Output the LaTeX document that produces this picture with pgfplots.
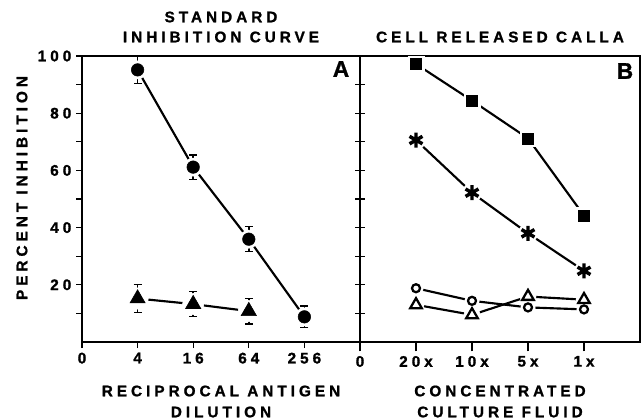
\documentclass[border=0pt]{standalone}
\usepackage{fontspec}
\setmainfont{Liberation Sans}
\newfontfamily\lsf[LetterSpace=26, FakeBold=1.2]{Liberation Sans Bold}
\newfontfamily\lsfb[FakeBold=1.2]{Liberation Sans Bold}
\usepackage{pgfplots}
\pgfplotsset{compat=1.18}
\newcommand{\lab}{\lsf\fontsize{11.5}{13}\selectfont}
\newcommand{\biglab}{\lsfb\fontsize{17}{17}\selectfont}

\begin{document}
\begin{tikzpicture}
\useasboundingbox (-61.5pt,-57.75pt) rectangle (419.25pt,256.5pt);
\pgfplotsset{
 panel/.style={scale only axis, height=214.5pt, ymin=0, ymax=100, xmin=0, xmax=5,
   axis line style={line width=1.2pt}, every tick/.style={black, line width=1pt},
   major tick length=4.5pt, minor tick length=4.5pt, tick align=outside,
   xtick={0,1,2,3,4}, xtick pos=lower,
   ticklabel style={font=\lab}, clip=false},
 ln/.style={black, line width=1.6pt, mark=none},
 halo/.style={only marks, white, mark options={fill=white, draw=white}},
 eb/.style={error bars/.cd, y dir=both, y explicit, error mark=|,
   error bar style={line width=1.1pt, black},
   error mark options={black, mark size=3pt, line width=1.1pt}},
}
\begin{axis}[panel, name=A, at={(0,0)}, anchor=south west, width=208.5pt,
  xticklabels={0,4,16,64,256},
  ytick={20,40,60,80,100}, minor ytick={10,30,50,70,90},
  yticklabels={20,40,60,80,100}, ytick pos=left]
\addplot[ln] coordinates {(1,95.15)(2,61.15)(3,35.95)(4,8.8)};
\addplot[ln] coordinates {(1,15.2)(2,13.25)(3,10.8)};
\addplot[halo, mark=*, mark size=6.8pt] coordinates {(1,95.15)(2,61.15)(3,35.95)(4,8.8)};
\addplot[halo, mark=*, mark size=8pt] coordinates {(1,15.2)(2,13.25)(3,10.8)};
\addplot[only marks, black, mark=*, mark size=4.7pt, eb] coordinates {
 (1,95.15) +- (0,4.75)
 (2,61.15) +- (0,4.25)
 (3,35.95) +- (0,4.35)
 (4,8.8) +- (0,3.8)};
\addplot[only marks, black, mark=triangle*, mark size=6.6pt, eb] coordinates {
 (1,15.2) +- (0,4.9)
 (2,13.25) +- (0,4.35)
 (3,10.8) +- (0,4.5)};
\end{axis}
\begin{axis}[panel, name=B, at={(208.5pt,0)}, anchor=south west, width=210pt,
  xticklabels={0,20x,10x,5x,1x},
  ytick={10,20,30,40,50,60,70,80,90}, yticklabels={}, ytick pos=left, ytick align=center,
  major tick length=7pt]
\addplot[ln] coordinates {(1,97.2)(2,84.4)(3,71.2)(4,44.2)};
\addplot[ln] coordinates {(1,70.6)(2,52.2)(3,38.0)(4,24.9)};
\addplot[ln] coordinates {(1,18.8)(2,14.4)(3,12.1)(4,11.4)};
\addplot[ln] coordinates {(1,13.0)(2,9.5)(3,15.9)(4,14.8)};
\addplot[halo, mark=square*, mark size=6pt] coordinates {(1,97.2)(2,84.4)(3,71.2)(4,44.2)};
\addplot[halo, mark=*, mark size=7.2pt] coordinates {(1,70.6)(2,52.2)(3,38.0)(4,24.9)};
\addplot[halo, mark=*, mark size=5.4pt] coordinates {(1,18.8)(2,14.4)(3,12.1)(4,11.4)};
\addplot[halo, mark=*, mark size=6pt] coordinates {(1,13.0)(2,9.5)(3,15.9)(4,14.8)};
\addplot[only marks, black, mark=square*, mark size=4.2pt] coordinates {(1,97.2)(2,84.4)(3,71.2)(4,44.2)};
\addplot[only marks, black, mark=asterisk, mark size=5.6pt, mark options={line width=2.6pt}] coordinates {(1,70.6)(2,52.2)(3,38.0)(4,24.9)};
\addplot[only marks, black, mark=*, mark size=3pt, mark options={fill=white, draw=black, line width=1.7pt}] coordinates {(1,18.8)(2,14.4)(3,12.1)(4,11.4)};
\addplot[only marks, black, mark=triangle*, mark size=5pt, mark options={fill=white, draw=black, line width=1.7pt}] coordinates {(1,13.0)(2,9.5)(3,15.9)(4,14.8)};
\end{axis}
\node[font=\lab] at (104.25pt,243.75pt) {STANDARD};
\node[font=\lab] at (104.25pt,228.75pt) {INHIBITION CURVE};
\node[font=\lab] at (313.5pt,228.75pt) {CELL RELEASED CALLA};
\node[font=\lab] at (104.25pt,-36.75pt) {RECIPROCAL ANTIGEN};
\node[font=\lab] at (104.25pt,-52.5pt) {DILUTION};
\node[font=\lab] at (313.5pt,-36.75pt) {CONCENTRATED};
\node[font=\lab] at (313.5pt,-52.5pt) {CULTURE FLUID};
\node[font=\lab, rotate=90] at (-45pt,115.5pt) {PERCENT INHIBITION};
\node[font=\biglab] at (194.25pt,204.75pt) {A};
\node[font=\biglab] at (407.25pt,203.25pt) {B};
\end{tikzpicture}
\end{document}
